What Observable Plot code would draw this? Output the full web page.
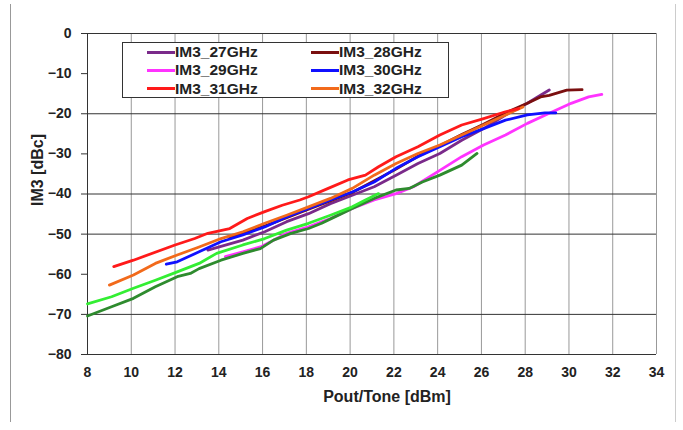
<!DOCTYPE html>
<html><head><meta charset="utf-8">
<script src="https://cdn.jsdelivr.net/npm/d3@7"></script>
<script src="https://cdn.jsdelivr.net/npm/@observablehq/plot@0.6"></script>
<style>
html,body{margin:0;padding:0;background:#fff;}
#wrap{position:relative;width:683px;height:430px;overflow:hidden;font-family:"Liberation Sans",Arial,sans-serif;}
#frame{position:absolute;left:10px;top:4px;width:664px;height:418px;border-left:1.5px solid #999;border-right:1px solid #ccc;}
#legend{position:absolute;left:122px;top:42px;width:325px;height:54px;border:1.5px solid #333;background:#fff;font-weight:bold;font-size:15.5px;color:#222;}
.li{position:absolute;display:flex;align-items:center;height:18px;}
.li span.sw{display:inline-block;width:28px;height:3px;margin-right:0px;}
#chart svg text{font-weight:bold;}
</style></head><body>
<div id="wrap"><div id="frame"></div><div id="chart"></div><div id="legend"></div></div>
<script>
const xTicks = [8,10,12,14,16,18,20,22,24,26,28,30,32,34];
const yTicks = [0,-10,-20,-30,-40,-50,-60,-70,-80];
const yGrid = [0,-20,-40,-50,-70,-80];

const im27_x = [13.5,15.1,16.1,17.1,18.1,19.1,20.1,21.1,22.1,23.1,24.1,25.1,26.1,27.1,28.1,28.7,29.1];
const im27_y = [-54.0,-51.5,-49.4,-46.9,-44.9,-42.4,-40.3,-38.2,-35.3,-32.4,-29.9,-26.6,-23.7,-20.3,-17.4,-15.4,-14.1];
const im28_x = [14.5,16.1,18.1,20.1,22.1,23.1,24.1,25.1,26.1,27.1,28.1,28.7,29.1,29.9,30.6];
const im28_y = [-51.0,-48.0,-43.8,-39.6,-33.8,-30.6,-28.0,-25.2,-22.6,-19.8,-17.4,-15.8,-15.4,-14.1,-14.0];
const im29_x = [14.3,15.1,15.9,16.5,17.1,18.1,19.1,20.1,21.1,22.1,22.9,24.1,25.1,26.1,27.1,28.1,29.1,30.1,30.9,31.5];
const im29_y = [-55.6,-54.4,-53.2,-51.5,-49.8,-48.2,-46.1,-43.6,-41.5,-39.9,-38.2,-34.1,-30.7,-27.8,-25.3,-22.4,-19.9,-17.4,-15.8,-15.2];
const im30_x = [11.6,12.1,13.1,14.1,15.1,16.1,17.1,18.1,19.1,20.1,21.1,22.1,23.1,24.1,25.1,26.1,27.1,28.1,28.9,29.4];
const im30_y = [-57.5,-56.9,-54.4,-51.9,-50.2,-48.2,-45.7,-43.6,-41.5,-39.5,-37.0,-33.6,-30.7,-28.2,-25.7,-23.7,-21.6,-20.3,-19.8,-19.8];
const im31_x = [9.2,10.1,12.0,12.9,13.5,14.5,15.3,16.1,16.9,17.7,18.1,19.0,19.9,20.7,21.3,22.1,23.1,24.1,25.1,26.1,27.1,27.7];
const im31_y = [-58.1,-56.5,-52.7,-51.1,-49.8,-48.6,-46.1,-44.4,-42.8,-41.5,-40.7,-38.6,-36.5,-35.3,-33.2,-30.7,-28.2,-25.3,-22.8,-21.2,-19.5,-18.7];
const im32_x = [9.0,10.1,11.1,12.1,13.1,14.1,15.1,16.1,17.1,18.1,19.1,20.1,21.1,22.1,23.1,24.1,25.1,26.1,27.1,27.9];
const im32_y = [-62.7,-60.2,-57.3,-55.2,-53.2,-51.1,-49.4,-47.3,-45.3,-43.2,-41.1,-38.6,-35.3,-32.4,-29.9,-27.8,-25.3,-22.8,-20.3,-18.3];
const lgreen_x = [8.0,9.1,10.1,11.1,12.1,13.1,13.9,15.1,16.1,17.1,18.1,19.1,20.1,20.7,21.3];
const lgreen_y = [-67.4,-65.6,-63.5,-61.5,-59.4,-57.3,-54.8,-52.7,-51.1,-49.0,-47.3,-45.3,-43.2,-41.5,-39.9];
const dgreen_x = [8.0,9.1,10.1,11.1,12.1,12.7,13.1,14.1,15.1,15.9,16.5,17.3,18.1,18.7,19.3,20.1,21.1,22.1,22.7,23.3,24.1,25.1,25.8];
const dgreen_y = [-70.4,-68.1,-66.0,-63.1,-60.6,-59.8,-58.6,-56.5,-54.8,-53.6,-51.5,-49.8,-48.6,-47.3,-45.7,-43.6,-41.1,-39.0,-38.6,-37.0,-35.3,-32.8,-29.9];

const series = [
  {name:"IM3_29GHz", color:"#ff33ff", x:im29_x, y:im29_y},
  {name:"green2", color:"#2e8b2e", x:dgreen_x, y:dgreen_y},
  {name:"green1", color:"#33ee33", x:lgreen_x, y:lgreen_y},
  {name:"IM3_27GHz", color:"#7a2a8a", x:im27_x, y:im27_y},
  {name:"IM3_28GHz", color:"#7a0f0f", x:im28_x, y:im28_y},
  {name:"IM3_30GHz", color:"#1010ff", x:im30_x, y:im30_y},
  {name:"IM3_32GHz", color:"#f26a1b", x:im32_x, y:im32_y},
  {name:"IM3_31GHz", color:"#ff1a1a", x:im31_x, y:im31_y}
];

const marks = [
  Plot.ruleX(xTicks, {stroke:"#999", strokeWidth:1}),
  Plot.ruleY(yGrid, {stroke:"#333", strokeWidth:1}),
  Plot.ruleX([8], {stroke:"#333", strokeWidth:1})
];
for (const s of series) {
  const data = s.x.map((v,i)=>({x:v, y:s.y[i]}));
  marks.push(Plot.line(data, {x:"x", y:"y", stroke:s.color, strokeWidth:2.8, curve:"linear"}));
}

const chart = Plot.plot({
  width:683, height:430,
  marginLeft:87, marginRight:27, marginTop:33, marginBottom:76,
  style:{fontFamily:"'Liberation Sans',Arial,sans-serif", fontSize:"14px", fontWeight:"bold", color:"#222", background:"transparent"},
  x:{domain:[8,34], ticks:xTicks, tickSize:0, tickPadding:13, label:null},
  y:{domain:[-80,0], ticks:yTicks, tickSize:0, tickPadding:16, label:null},
  marks: [
    ...marks,
    Plot.axisX({ticks:xTicks, tickSize:0, tickPadding:13, label:null}),
    Plot.axisY({ticks:yTicks, tickSize:6, stroke:"#333", tickPadding:10, label:null}),
    Plot.text(["Pout/Tone [dBm]"], {frameAnchor:"bottom", dx:15, dy:47, fontSize:16, fontWeight:"bold", fill:"#222"}),
    Plot.text(["IM3 [dBc]"], {frameAnchor:"left", dx:-50, dy:12, rotate:-90, fontSize:16, fontWeight:"bold", fill:"#222"})
  ]
});
document.getElementById("chart").appendChild(chart);

// legend
const leg = document.getElementById("legend");
const order = ["IM3_27GHz","IM3_28GHz","IM3_29GHz","IM3_30GHz","IM3_31GHz","IM3_32GHz"];
order.forEach((n,i)=>{
  const s = series.find(d=>d.name===n);
  const col = i%2, row = Math.floor(i/2);
  const el = document.createElement("div");
  el.className="li";
  el.style.left = (col===0 ? 24 : 188) + "px";
  el.style.top = (row*18.3 + 0) + "px";
  el.innerHTML = `<span class="sw" style="background:${s.color}"></span>${n}`;
  leg.appendChild(el);
});
</script>
</body></html>
